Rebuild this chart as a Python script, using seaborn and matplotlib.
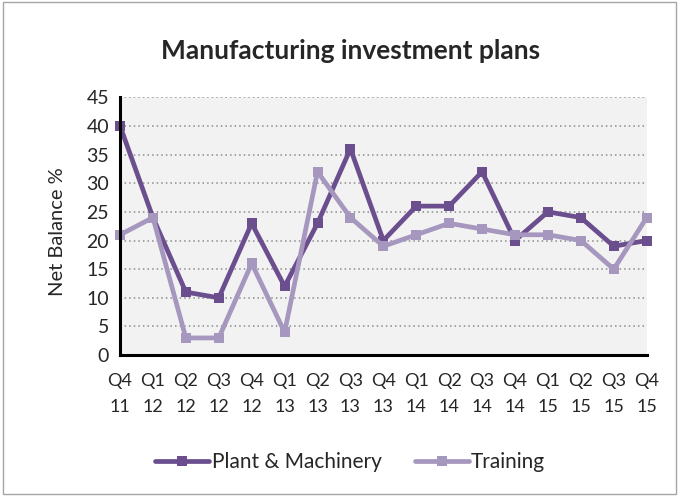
import matplotlib
matplotlib.use("Agg")
import matplotlib.pyplot as plt
import pandas as pd
import seaborn as sns
from matplotlib.patches import Rectangle

quarters = ["Q4\n11", "Q1\n12", "Q2\n12", "Q3\n12", "Q4\n12", "Q1\n13", "Q2\n13",
            "Q3\n13", "Q4\n13", "Q1\n14", "Q2\n14", "Q3\n14", "Q4\n14", "Q1\n15",
            "Q2\n15", "Q3\n15", "Q4\n15"]
plant = [40, 24, 11, 10, 23, 12, 23, 36, 20, 26, 26, 32, 20, 25, 24, 19, 20]
training = [21, 24, 3, 3, 16, 4, 32, 24, 19, 21, 23, 22, 21, 21, 20, 15, 24]
series_names = ["Plant & Machinery", "Training"]
colors = ["#6B4E8E", "#A697BF"]

sns.set_style("white")
plt.rcParams["font.family"] = ["Lato", "DejaVu Sans"]

df = pd.DataFrame({
    "x": list(range(len(quarters))) * 2,
    "value": plant + training,
    "series": [series_names[0]] * len(plant) + [series_names[1]] * len(training),
})

fig = plt.figure(figsize=(6.8, 4.96), dpi=100)
ax = fig.add_axes([0.1765, 0.284, 0.7745, 0.52])
ax.set_facecolor("#F2F2F2")

sns.lineplot(data=df, x="x", y="value", hue="series", palette=colors,
             marker="s", markersize=7.5, markeredgewidth=0, linewidth=3.4,
             ax=ax, legend=True, clip_on=False)

ax.set_xlim(0, len(quarters) - 1)
ax.set_ylim(0, 45)
ax.set_yticks(range(0, 46, 5))
ax.set_xticks(range(len(quarters)))
ax.set_xticklabels(quarters, fontsize=13, linespacing=1.75)
ax.tick_params(axis="y", labelsize=14, direction="out", length=5, width=2,
               color="black", pad=3)
ax.tick_params(axis="x", direction="out", length=5, width=2, color="black", pad=8)
for v in range(5, 46, 5):
    ax.axhline(v, color="#8C8C8C", linestyle=(0, (1, 2)), linewidth=1.1, zorder=0)

for side in ["top", "right"]:
    ax.spines[side].set_visible(False)
for side in ["left", "bottom"]:
    ax.spines[side].set_color("black")
    ax.spines[side].set_linewidth(2.2)

ax.set_xlabel("")
ax.set_ylabel("Net Balance %", fontsize=14.5)
ax.yaxis.set_label_coords(-0.102, 0.48)

fig.text(0.515, 0.897, "Manufacturing investment plans", ha="center", va="center",
         fontsize=19, fontweight="bold")

handles, labels = ax.get_legend_handles_labels()
ax.legend(handles, labels, loc="center", bbox_to_anchor=(0.515, 0.068),
          bbox_transform=fig.transFigure, ncol=2, frameon=False, fontsize=15,
          handlelength=2.6, columnspacing=1.6, handletextpad=0.1)

fig.patches.append(Rectangle((0.004, 0.004), 0.99, 0.992, transform=fig.transFigure,
                             fill=False, edgecolor="#A6A6A6", linewidth=1))

fig.savefig("out.png", dpi=100)
